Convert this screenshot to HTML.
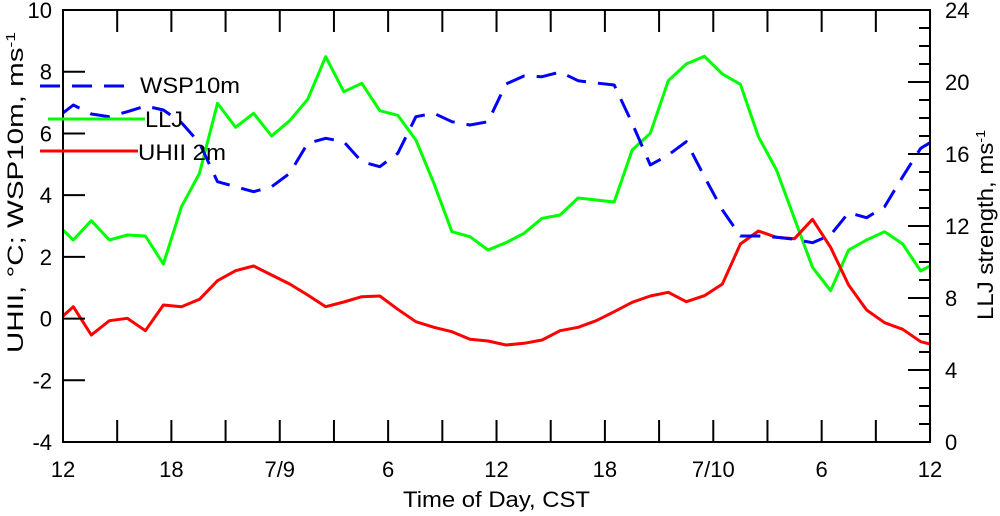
<!DOCTYPE html>
<html><head><style>body{margin:0;background:#fff}svg{display:block;font-family:"Liberation Sans",sans-serif}</style></head>
<body>
<svg width="1000" height="516" viewBox="0 0 1000 516">
<defs><clipPath id="c"><rect x="63" y="10" width="867" height="432"/></clipPath></defs>
<g id="lines" clip-path="url(#c)" fill="none" stroke-width="3" stroke-linejoin="round"></g>
<g stroke="#000" stroke-width="2" fill="none" id="ax">
<rect x="63" y="10" width="867" height="432"/>
</g>
<g font-size="22" fill="#000" id="txt"></g>
<g font-size="22">
<line x1="40" y1="86" x2="124" y2="86" stroke="#00f" stroke-width="3" stroke-dasharray="20 12"/>
<text x="140" y="93" textLength="100" lengthAdjust="spacingAndGlyphs">WSP10m</text>
<line x1="48" y1="119" x2="145" y2="119" stroke="#0f0" stroke-width="3"/>
<text x="145" y="127" textLength="38" lengthAdjust="spacingAndGlyphs">LLJ</text>
<line x1="40" y1="151" x2="138" y2="151" stroke="#f00" stroke-width="3"/>
<text x="138" y="160" textLength="88" lengthAdjust="spacingAndGlyphs">UHII 2m</text>
<text x="403" y="507" textLength="187" lengthAdjust="spacingAndGlyphs">Time of Day, CST</text>
<text transform="translate(23,353) rotate(-90)" textLength="321" lengthAdjust="spacingAndGlyphs">UHII, °C; WSP10m, ms<tspan dy="-8" font-size="13">-1</tspan></text>
<text transform="translate(993,320) rotate(-90)" textLength="190" lengthAdjust="spacingAndGlyphs">LLJ strength, ms<tspan dy="-8" font-size="13">-1</tspan></text>
</g>
<script>
var X=function(i){return 73.3+18.03*i};
function pts(s,e,ys){var p=[s];ys.forEach(function(y,i){p.push([X(i),y])});p.push(e);return p.map(function(a){return a[0].toFixed(1)+','+a[1]}).join(' ')}
var g=[240,220.7,240,235,236,264,206.7,173.3,103.3,127.3,113.3,136,120.7,99.3,56.7,91.7,83.3,110.7,115.3,140,183.3,231.7,236.7,250,242.7,233.3,218.3,215,198,200,202,150,133.3,80.7,64,56.3,74,84.3,136.7,170,218.7,267.3,290.7,250,240,231.7,244,271];
var r=[306.7,335,320.7,318.3,330.7,305,306.7,299.3,280.7,270.7,266,275,284,295,306.7,302,296.7,296,309.3,321.7,327.3,331.7,339.3,341,345,343.3,340,330.7,327.3,320.7,311.7,302.3,296,292.3,301.7,295.7,284,244,231,237.3,238.7,219.3,247.3,285,310,322.7,329.3,341.7];
var b=[105,114,116.7,111.7,106,110,122.7,143,181.7,186.7,191.7,186.7,173.3,143.3,138.3,141.7,161.7,166.7,153.3,116.7,113.3,121.7,125,121.7,84,76,76.7,72,80.7,83,85,123.3,165,155,141.7,176.7,210,236,236,237.3,239.3,242.7,235,212.7,217.7,206.7,176.7,148.3];
var L=document.getElementById('lines'),NS='http://www.w3.org/2000/svg';
function pl(p,c,d){var e=document.createElementNS(NS,'polyline');e.setAttribute('points',p);e.setAttribute('stroke',c);if(d)e.setAttribute('stroke-dasharray',d);L.appendChild(e)}
pl(pts([63,230],[930,266],g),'#0f0');
pl(pts([63,316],[930,344],r),'#f00');
pl(pts([63,113],[930,142.7],b),'#00f','20 12');
var A=document.getElementById('ax'),T=document.getElementById('txt');
function ln(x1,y1,x2,y2){var e=document.createElementNS(NS,'line');e.setAttribute('x1',x1);e.setAttribute('y1',y1);e.setAttribute('x2',x2);e.setAttribute('y2',y2);A.appendChild(e)}
function tx(x,y,s,a){var e=document.createElementNS(NS,'text');e.setAttribute('x',x);e.setAttribute('y',y);e.setAttribute('text-anchor',a);e.textContent=s;T.appendChild(e)}
for(var k=0;k<=7;k++){var y=442-k*61.71;ln(63,y,85,y);tx(52,y+8,String(-4+2*k),'end')}
for(var k=0;k<=24;k++){var y=442-k*18;var M=k%4==0;ln(930,y,M?908:919,y);if(M)tx(945,y+8,String(k),'start')}
var lab=['12','18','7/9','6','12','18','7/10','6','12'];
for(var k=0;k<=16;k++){var x=63+k*54.19;ln(x,442,x,420);ln(x,10,x,32);if(k%2==0)tx(x,477,lab[k/2],'middle')}
</script>
</svg>
</body></html>
